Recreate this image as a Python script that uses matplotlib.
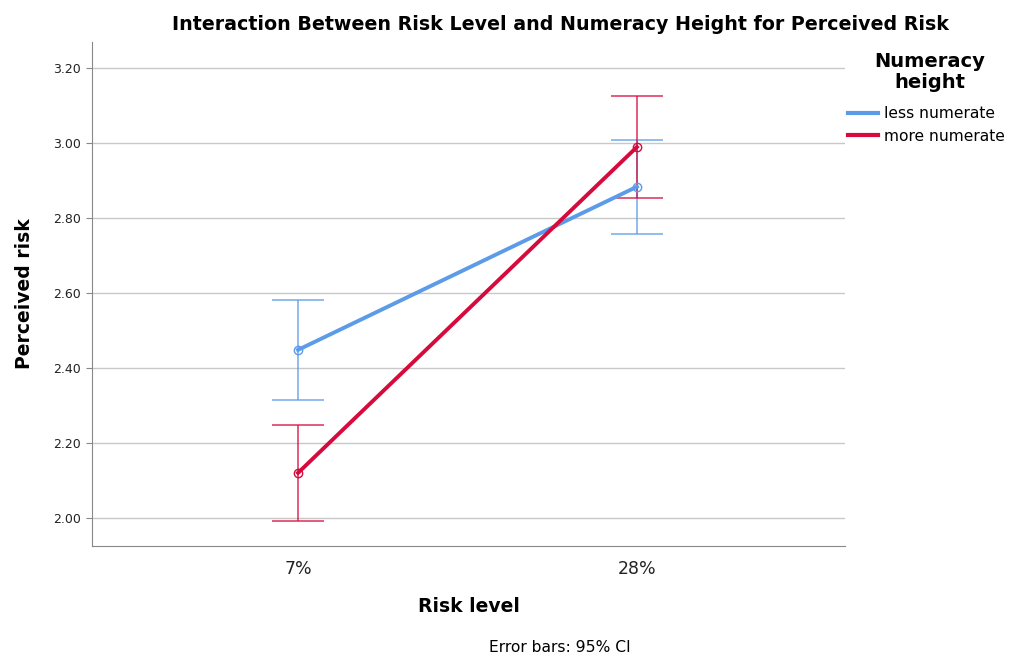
import numpy as np
import matplotlib.pyplot as plt

# data
risk_levels = ["7%", "28%"]
less_mean = [2.448, 2.883]
less_lo = [2.315, 2.757]
less_hi = [2.581, 3.008]
more_mean = [2.120, 2.989]
more_lo = [1.992, 2.853]
more_hi = [2.248, 3.125]
y_ticks = [2.00, 2.20, 2.40, 2.60, 2.80, 3.00, 3.20]

blue = "#5b9be8"
red = "#d60a3c"

fig = plt.figure(figsize=(10.16, 6.59), dpi=100)
ax = fig.add_axes([92 / 1016, 1 - 546 / 659, (845 - 92) / 1016, (546 - 42) / 659])

x = np.arange(len(risk_levels))

series = [
    ("less numerate", less_mean, less_lo, less_hi, blue),
    ("more numerate", more_mean, more_lo, more_hi, red),
]
handles = []
for name, mean, lo, hi, col in series:
    mean = np.array(mean)
    err = [mean - np.array(lo), np.array(hi) - mean]
    ax.errorbar(x, mean, yerr=err, fmt="none", ecolor=col, elinewidth=1.1,
                capsize=18.5, capthick=1.1, alpha=0.85, zorder=3)
    h, = ax.plot(x, mean, color=col, lw=2.8, zorder=4, label=name)
    ax.plot(x, mean, "o", ms=6, mfc="none", mec=col, mew=1, zorder=5)
    handles.append(h)

ax.set_xlim(-0.608, 1.614)
ax.set_ylim(1.925, 3.269)
ax.set_yticks(y_ticks)
ax.set_yticklabels([f"{v:.2f}" for v in y_ticks], fontsize=9, color="#222222")
ax.set_xticks(x)
ax.set_xticklabels(risk_levels, fontsize=12.5, color="#222222")
ax.tick_params(axis="x", length=0, pad=10)
ax.tick_params(axis="y", length=4, color="#888888", pad=4)
ax.yaxis.grid(True, color="#c8c8c8", lw=1)
ax.set_axisbelow(True)
for s in ["top", "right"]:
    ax.spines[s].set_visible(False)
for s in ["left", "bottom"]:
    ax.spines[s].set_color("#888888")

ax.set_xlabel("Risk level", fontsize=13.5, fontweight="bold", labelpad=14)
ax.set_ylabel("Perceived risk", fontsize=13.5, fontweight="bold", labelpad=14)

fig.text(560 / 1016, 1 - 25 / 659, "Interaction Between Risk Level and Numeracy Height for Perceived Risk",
         ha="center", va="center", fontsize=13.7, fontweight="bold")
fig.text(560 / 1016, 1 - 648 / 659, "Error bars: 95% CI", ha="center", va="center", fontsize=11.2)

# legend title drawn separately so the gap to the entries matches
fig.text(930 / 1016, 1 - 72 / 659, "Numeracy\nheight", ha="center", va="center",
         fontsize=14, fontweight="bold", linespacing=1.1)
leg = fig.legend(handles=handles, loc="upper left", bbox_to_anchor=(848 / 1016, 1 - 106 / 659),
                 frameon=False, fontsize=11.2, borderpad=0, borderaxespad=0,
                 handlelength=1.9, handletextpad=0.4, labelspacing=0.5)
for line in leg.get_lines():
    line.set_linewidth(3)

fig.savefig("out.png", dpi=100)
